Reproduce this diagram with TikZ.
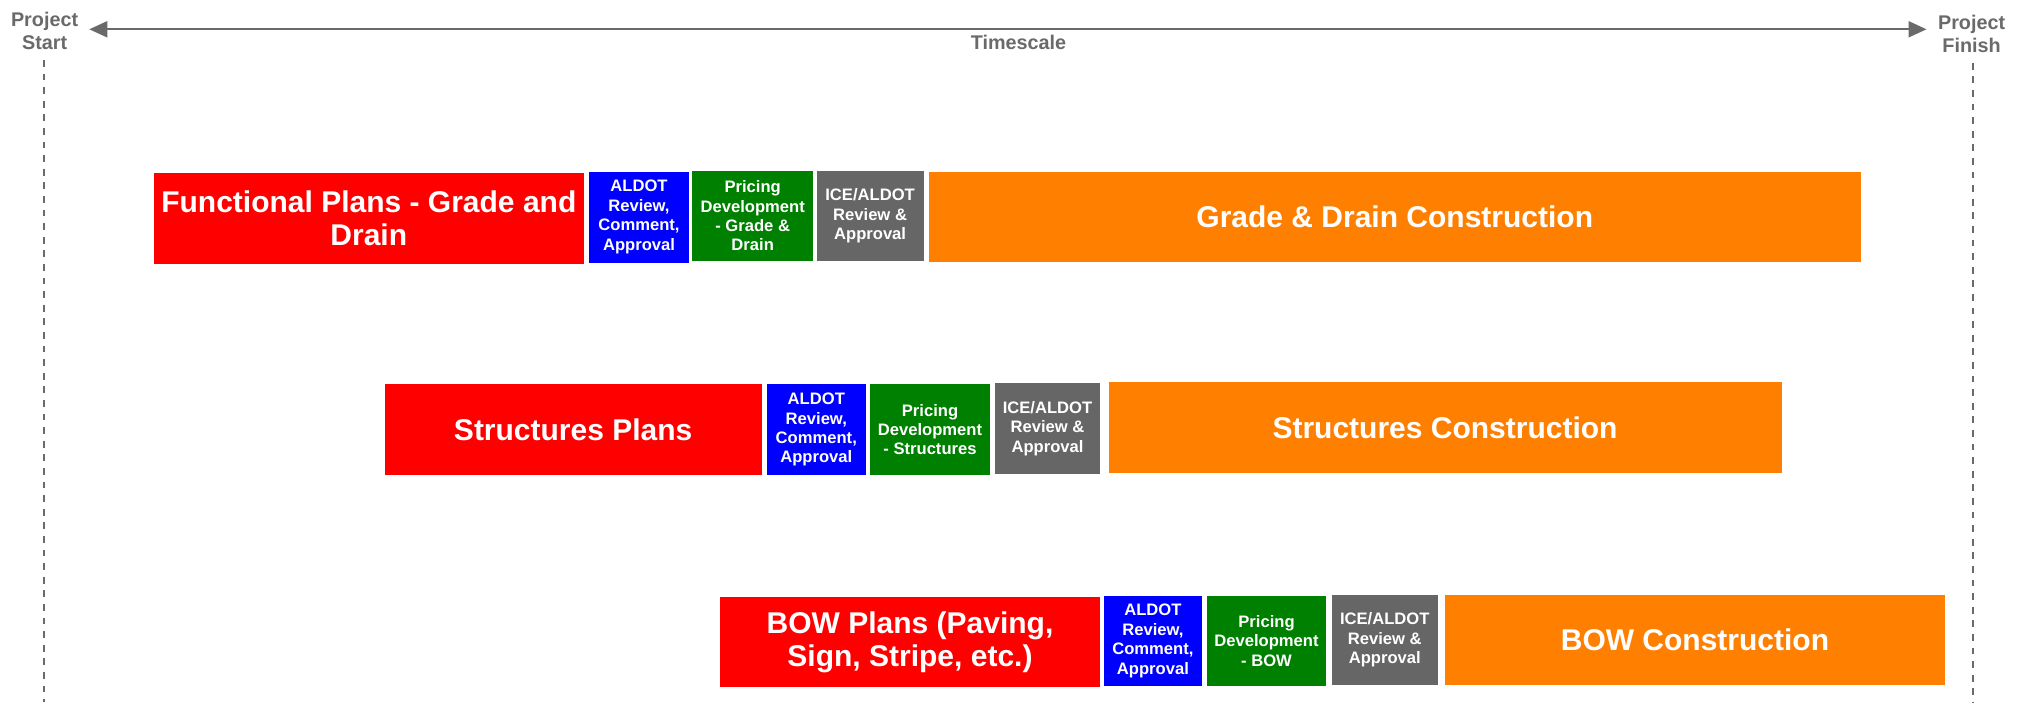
\documentclass[tikz,border=0pt]{standalone}
\usepackage{fontspec}
\setmainfont{Liberation Sans}
\usetikzlibrary{arrows.meta}
\definecolor{cred}{HTML}{FF0000}
\definecolor{cblue}{HTML}{0000FF}
\definecolor{cgreen}{HTML}{008000}
\definecolor{cgray}{HTML}{666666}
\definecolor{corange}{HTML}{FF8000}
\definecolor{clabel}{HTML}{6A6A6A}
\newcommand{\phasebox}[7]{\node[#6, minimum width={(#4-#2)*0.5pt}, minimum height={(#5-#3)*0.5pt}] (#1) at ({(#2+#4)/2},{(#3+#5)/2}) {#7};}
\begin{document}
\begin{tikzpicture}[x=0.5pt,y=-0.5pt,
  phase/.style={inner sep=0pt, outer sep=0pt, text=white, align=center},
  big/.style={phase, font=\fontsize{15}{16.65}\selectfont\bfseries},
  small/.style={phase, font=\fontsize{8.3}{9.7}\selectfont\bfseries},
  plan/.style={big, fill=cred},
  review/.style={small, fill=cblue},
  pricing/.style={small, fill=cgreen},
  approval/.style={small, fill=cgray},
  construct/.style={big, fill=corange},
  endlabel/.style={inner sep=0pt, text=clabel, align=center, font=\fontsize{9.9}{11.5}\selectfont\bfseries},
  tsarrow/.style={draw=clabel, line width=1pt, {Triangle[length=9pt,width=8pt]}-{Triangle[length=9pt,width=8pt]}},
  guide/.style={draw=clabel, line width=1.1pt, dash pattern=on 3.4pt off 3.4pt}
]
\useasboundingbox (0,0) rectangle (2024,702);
\fill[white] (0,0) rectangle (2024,702);

% header
\node[endlabel] (pstart) at (44.6,31) {Project\\Start};
\node[endlabel] (pfinish) at (1971.6,33.5) {Project\\Finish};
\node[endlabel] (tscale) at (1018.5,42.6) {Timescale};
\coordinate (tl) at (89.3,29.3);
\coordinate (tr) at (1926.5,29.3);
\draw[tsarrow] (tl) -- (tr);
\coordinate (ls1) at (44.2,60);
\coordinate (ls2) at (44.2,702);
\coordinate (rs1) at (1972.7,62.7);
\coordinate (rs2) at (1972.7,702);
\draw[guide] (ls1) -- (ls2);
\draw[guide] (rs1) -- (rs2);

% row 1
\phasebox{fp}{153.6}{172.5}{584}{263.5}{plan}{Functional Plans - Grade and\\Drain}
\phasebox{ra}{589}{171.5}{689}{262.5}{review}{ALDOT\\Review,\\Comment,\\Approval}
\phasebox{pa}{692.4}{170.7}{813}{261}{pricing}{Pricing\\Development\\- Grade \&\\Drain}
\phasebox{aa}{816.5}{170.7}{923.7}{261}{approval}{ICE/ALDOT\\Review \&\\Approval}
\phasebox{ca}{928.6}{172}{1861}{262.3}{construct}{Grade \& Drain Construction}

% row 2
\phasebox{sp}{384.8}{384.3}{761.6}{475}{plan}{Structures Plans}
\phasebox{rb}{767}{384.3}{865.6}{475}{review}{ALDOT\\Review,\\Comment,\\Approval}
\phasebox{pb}{870}{384.3}{990}{475}{pricing}{Pricing\\Development\\- Structures}
\phasebox{ab}{994.6}{383.3}{1100.4}{473.7}{approval}{ICE/ALDOT\\Review \&\\Approval}
\phasebox{cb}{1108.5}{382}{1781.5}{472.7}{construct}{Structures Construction}

% row 3
\phasebox{bp}{720}{597.3}{1100}{687.3}{plan}{BOW Plans (Paving,\\Sign, Stripe, etc.)}
\phasebox{rc}{1103.6}{596}{1202.2}{686}{review}{ALDOT\\Review,\\Comment,\\Approval}
\phasebox{pc}{1206.7}{596}{1326.3}{686}{pricing}{Pricing\\Development\\- BOW}
\phasebox{ac}{1331.9}{594.7}{1437.6}{684.7}{approval}{ICE/ALDOT\\Review \&\\Approval}
\phasebox{cc}{1445}{594.7}{1945}{684.7}{construct}{BOW Construction}
\end{tikzpicture}
\end{document}
